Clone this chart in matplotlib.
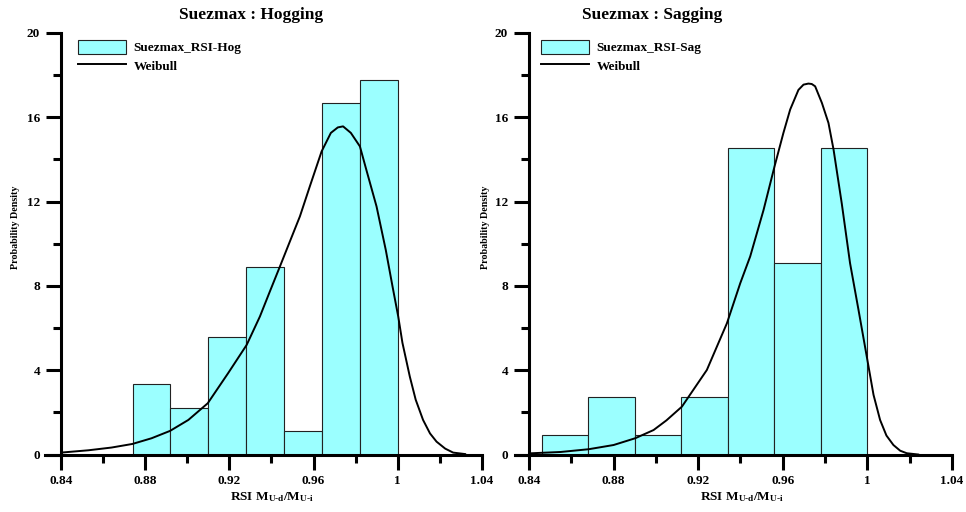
import numpy as np
import matplotlib
matplotlib.use("Agg")
import matplotlib.pyplot as plt
from matplotlib.ticker import MultipleLocator, FixedLocator

plt.rcParams['font.family'] = 'Liberation Serif'
plt.rcParams['font.weight'] = 'bold'
plt.rcParams['mathtext.fontset'] = 'custom'
plt.rcParams['mathtext.rm'] = 'Liberation Serif:bold'
plt.rcParams['mathtext.it'] = 'Liberation Serif:bold'
plt.rcParams['mathtext.bf'] = 'Liberation Serif:bold'

# histogram bins (density)
hog_edges = [0.874, 0.892, 0.910, 0.928, 0.946, 0.964, 0.982, 1.000]
hog_density = [3.33, 2.22, 5.56, 8.89, 1.11, 16.67, 17.78]
sag_edges = [0.846, 0.868, 0.890, 0.912, 0.934, 0.956, 0.978, 1.000]
sag_density = [0.91, 2.73, 0.91, 2.73, 14.55, 9.09, 14.55]

# fitted Weibull curves
hog_wx = [0.840, 0.853, 0.864, 0.8739, 0.883, 0.8918, 0.9005, 0.9097, 0.9194, 0.9282,
          0.9345, 0.9392, 0.944, 0.9487, 0.9535, 0.9582, 0.9638, 0.9682, 0.9715,
          0.974, 0.9777, 0.982, 0.9848, 0.9899, 0.9943, 0.9975, 1.0002, 1.0022,
          1.0057, 1.0085, 1.012, 1.0153, 1.0184, 1.0225, 1.0263, 1.032]
hog_wy = [0.09, 0.20, 0.33, 0.50, 0.77, 1.12, 1.64, 2.43, 3.86, 5.20,
          6.55, 7.73, 8.92, 10.1, 11.3, 12.72, 14.38, 15.26, 15.52,
          15.57, 15.26, 14.62, 13.6, 11.77, 9.7, 7.97, 6.55, 5.3,
          3.7, 2.6, 1.64, 1.0, 0.61, 0.28, 0.09, 0.02]
sag_wx = [0.8414, 0.855, 0.8682, 0.880, 0.8902, 0.8989, 0.905, 0.9123, 0.9241, 0.9336,
          0.9399, 0.9446, 0.9509, 0.9561, 0.9603, 0.9635, 0.9674, 0.9698, 0.9721,
          0.9737, 0.9753, 0.9785, 0.9816, 0.984, 0.9879, 0.9918, 0.9958, 0.9997,
          1.0029, 1.006, 1.009, 1.0123, 1.0155, 1.0186, 1.024]
sag_wy = [0.06, 0.12, 0.25, 0.45, 0.77, 1.16, 1.62, 2.27, 4.01, 6.23,
          8.13, 9.4, 11.6, 13.67, 15.26, 16.37, 17.3, 17.55, 17.6,
          17.58, 17.47, 16.68, 15.73, 14.47, 11.9, 9.08, 6.86, 4.65,
          2.83, 1.64, 0.9, 0.45, 0.18, 0.06, 0.0]

panels = [
    ("Suezmax : Hogging", "Suezmax_RSI-Hog", hog_edges, hog_density, hog_wx, hog_wy),
    ("Suezmax : Sagging", "Suezmax_RSI-Sag", sag_edges, sag_density, sag_wx, sag_wy),
]

W, H = 966, 512
fig = plt.figure(figsize=(W / 100, H / 100), dpi=100)

# pixel layout: (axes left px, xlim low, legend left px, title centre px)
layout = [(45, 0.8324, 78, 251), (515, 0.8334, 541, 652)]
bar_color = '#9BFFFF'

for (title, hist_label, edges, dens, wx, wy), (left_px, xlow, leg_px, title_px) in zip(panels, layout):
    right_px = left_px + 437
    ax = fig.add_axes([left_px / W, 57.5 / H, (right_px - left_px) / W, 421.5 / H])
    edges = np.array(edges)
    bars = ax.bar(edges[:-1], dens, width=np.diff(edges), align='edge',
                  color=bar_color, edgecolor='#222222', linewidth=0.8, zorder=2)
    line, = ax.plot(wx, wy, color='black', linewidth=1.4, zorder=3)

    ax.set_xlim(xlow, 1.04)
    ax.set_ylim(0, 20)
    ax.spines['top'].set_visible(False)
    ax.spines['right'].set_visible(False)
    ax.spines['left'].set_position(('data', 0.84))
    for s in ('left', 'bottom'):
        ax.spines[s].set_linewidth(2.2)

    ax.xaxis.set_major_locator(FixedLocator([0.84, 0.88, 0.92, 0.96, 1.0, 1.04]))
    ax.xaxis.set_minor_locator(FixedLocator([0.86, 0.90, 0.94, 0.98, 1.02]))
    ax.set_xticklabels(['0.84', '0.88', '0.92', '0.96', '1', '1.04'])
    ax.yaxis.set_major_locator(MultipleLocator(4))
    ax.yaxis.set_minor_locator(MultipleLocator(2))
    ax.tick_params(which='major', length=11, width=2.2, labelsize=9.5)
    ax.tick_params(which='minor', length=6, width=2.2)
    ax.tick_params(axis='x', which='major', pad=4)
    ax.tick_params(axis='y', which='major', pad=4)

    ax.set_xlabel(r'RSI M$_{\text{U-d}}$/M$_{\text{U-i}}$', fontsize=9.5, fontweight='bold', labelpad=1)
    ax.xaxis.set_label_coords(((left_px + 16 + right_px) / 2 - left_px) / 437, -0.085)
    ax.set_ylabel('Probability Density', fontsize=7.2, fontweight='bold')
    ax.yaxis.set_label_coords(-0.057, 0.54)

    fig.text(title_px / W, 1 - 15 / H, title, ha='center', va='center',
             fontsize=12.5, fontweight='bold')

    ax.legend([bars, line], [hist_label, 'Weibull'], loc='upper left',
              bbox_to_anchor=(leg_px / W, 1 - 40 / H),
              bbox_transform=fig.transFigure, frameon=False, fontsize=9.5,
              borderpad=0, borderaxespad=0, handlelength=3.6, handleheight=1.2,
              handletextpad=0.6, labelspacing=0.35)

fig.savefig('out.png', dpi=100)
